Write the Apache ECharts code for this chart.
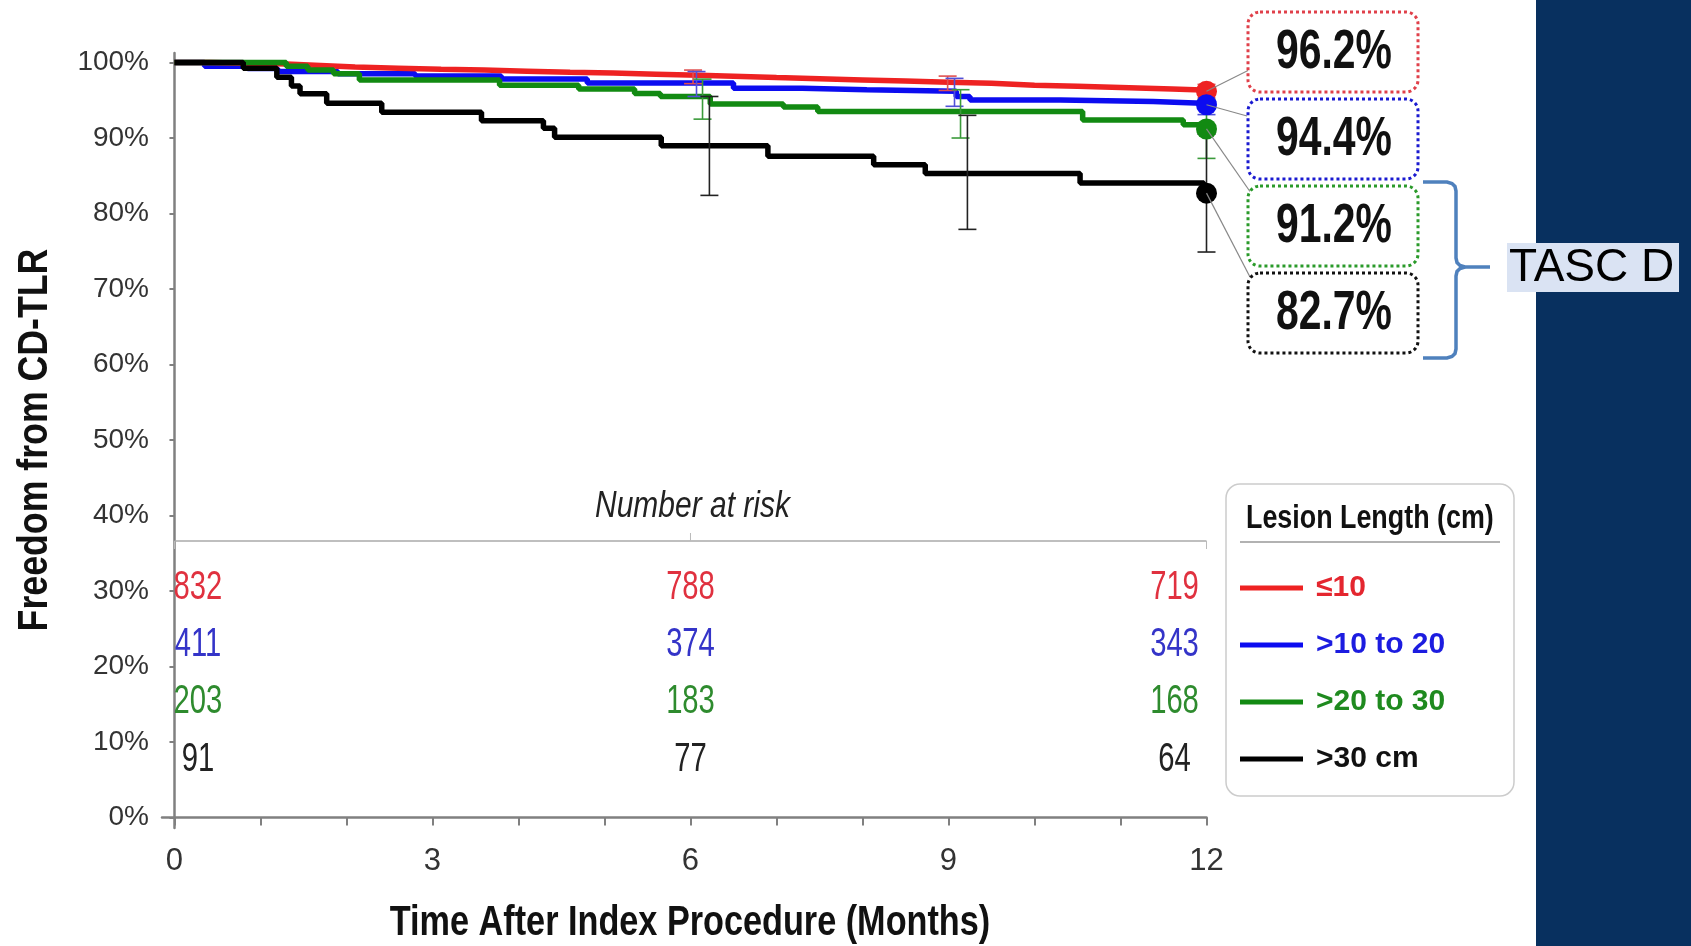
<!DOCTYPE html>
<html>
<head>
<meta charset="utf-8">
<script src="https://cdn.jsdelivr.net/npm/echarts@6/dist/echarts.min.js"></script>
<style>
html,body{margin:0;padding:0;background:#fff;}
#chart{width:1691px;height:946px;}
</style>
</head>
<body>
<div id="chart"></div>
<script>
// ---------------- DATA ----------------
const groupNames = ['≤10', '>10 to 20', '>20 to 30', '>30 cm'];
const xTickValues = [0,1,2,3,4,5,6,7,8,9,10,11,12];
const xLabelValues = [0,3,6,9,12];
const yTickValues = [0,10,20,30,40,50,60,70,80,90,100];

// Kaplan-Meier step points [month, freedom %]
const kmRed = [[0,100],[0.4,99.9],[0.9,99.8],[1.3,99.6],[1.7,99.4],[2.1,99.25],[2.6,99.1],[3.1,99.0],[3.6,98.85],[4.1,98.7],[4.6,98.6],[5.1,98.45],[5.6,98.3],[6.1,98.15],[6.6,98.0],[7.0,97.85],[7.5,97.7],[8.0,97.55],[8.5,97.4],[9.0,97.25],[9.5,97.0],[10.0,96.85],[10.5,96.7],[11.0,96.5],[11.6,96.35],[11.95,96.2],[12,96.2]];
const kmBlue = [[0,100],[0.35,99.5],[0.85,99.2],[1.2,98.8],[1.9,98.5],[2.8,98.2],[3.8,97.8],[4.8,97.3],[6.5,96.6],[7.3,96.4],[8.05,96.2],[9.09,95.5],[9.25,95.05],[10.3,94.85],[11.38,94.6],[11.95,94.4],[12,94.4]];
const kmGreen = [[0,100],[1.3,99.5],[1.55,99.0],[1.85,98.5],[2.15,97.7],[3.78,97.0],[4.7,96.5],[5.35,95.9],[5.65,95.5],[6.23,94.5],[7.08,94.1],[7.48,93.5],[10.56,92.4],[11.73,91.75],[12,91.2]];
const kmBlack = [[0,100],[0.8,99.25],[1.19,98.06],[1.36,96.9],[1.46,95.85],[1.77,94.6],[2.41,93.4],[3.57,92.3],[4.29,91.3],[4.42,90.1],[5.66,88.97],[6.9,87.6],[8.13,86.45],[8.73,85.3],[10.53,84.05],[11.97,82.7],[12,82.7]];

// 95% CI bars [month, lower, upper]
const ciRed = [[6.03,97.2,99.0],[8.99,96.3,98.2],[12,95.3,97.1]];
const ciBlue = [[6.07,95.5,98.8],[9.07,94.2,97.9],[12,93.1,95.7]];
const ciGreen = [[6.14,92.5,97.8],[9.14,90.0,96.4],[12,87.3,95.1]];
const ciBlack = [[6.22,82.4,95.5],[9.22,77.9,93.0],[12,74.9,90.5]];

// 12-month estimates
const finalRates = [96.2, 94.4, 91.2, 82.7];

// Number at risk
const riskMonths = [0, 6, 12];
const riskRed = [832, 788, 719];
const riskBlue = [411, 374, 343];
const riskGreen = [203, 183, 168];
const riskBlack = [91, 77, 64];

// ---------------- STYLE ----------------
const FONT = "'Liberation Sans', Arial, sans-serif";
const lineColors = ['#ee2222', '#0c0cf0', '#128a12', '#000000'];
const ciColors = ['#e05050', '#5050d8', '#3a9a3a', '#222222'];
const riskColors = ['#e0313f', '#3434c8', '#2e8b2e', '#222222'];
const legendColors = ['#e4262f', '#1c1ce0', '#1f8a1f', '#111111'];
const calloutColors = ['#e0404a', '#1a1ad0', '#2a9a2a', '#111111'];

const kmSets = [kmRed, kmBlue, kmGreen, kmBlack];
const ciSets = [ciRed, ciBlue, ciGreen, ciBlack];
const riskSets = [riskRed, riskBlue, riskGreen, riskBlack];

const chart = echarts.init(document.getElementById('chart'), null, {renderer: 'canvas'});

const lineOrder = [1, 0, 2, 3]; // draw order bottom->top
const series = [];
lineOrder.forEach((g, k) => {
  series.push({
    name: groupNames[g], type: 'line', step: 'end', data: kmSets[g],
    symbol: 'none', showSymbol: false, color: lineColors[g],
    lineStyle: {width: 5.5, color: lineColors[g]}, z: 2 + k, animation: false, silent: true
  });
});
// CI bars
ciSets.forEach((ci, g) => {
  series.push({
    name: 'ci' + g, type: 'custom', data: ci, z: 7, animation: false, silent: true,
    encode: {x: 0, y: [1, 2]},
    renderItem: function (params, api) {
      const x = api.value(0);
      const lo = api.coord([x, api.value(1)]);
      const hi = api.coord([x, api.value(2)]);
      const w = 9;
      const st = {stroke: ciColors[g], lineWidth: 1.6};
      return {type: 'group', children: [
        {type: 'line', shape: {x1: lo[0], y1: lo[1], x2: hi[0], y2: hi[1]}, style: st},
        {type: 'line', shape: {x1: lo[0]-w, y1: lo[1], x2: lo[0]+w, y2: lo[1]}, style: st},
        {type: 'line', shape: {x1: hi[0]-w, y1: hi[1], x2: hi[0]+w, y2: hi[1]}, style: st}
      ]};
    }
  });
});
// end markers
series.push({
  name: 'final', type: 'scatter', symbol: 'circle', symbolSize: 21, z: 9, animation: false, silent: true,
  data: finalRates.map((v, g) => ({value: [12, v], itemStyle: {color: lineColors[g], opacity: 1}}))
});
// number at risk
const rowY = [588, 645, 702, 760];
const colOffset = [23.5, 0, -32];
const riskData = [];
riskSets.forEach((arr, g) => arr.forEach((n, j) => riskData.push([riskMonths[j], n, g, j])));
series.push({
  name: 'risk', type: 'custom', data: riskData, z: 10, animation: false, silent: true,
  encode: {x: 0},
  renderItem: function (params, api) {
    const m = api.value(0), n = api.value(1), g = api.value(2), j = api.value(3);
    const p = api.coord([m, 0]);
    return {type: 'text', x: p[0] + colOffset[j], y: rowY[g], scaleX: 0.73,
      style: {text: String(n), fill: riskColors[g], font: '40px ' + FONT,
        align: 'center', verticalAlign: 'middle', textAlign: 'center', textVerticalAlign: 'middle'}};
  }
});

chart.setOption({
  animation: false,
  backgroundColor: '#ffffff',
  grid: {left: 162, right: 484.5, top: 53, bottom: 118, containLabel: false},
  xAxis: {
    type: 'value', min: -0.145, max: 12,
    axisLine: {show: true, lineStyle: {color: '#808080', width: 2.5}},
    axisTick: {show: true, customValues: xTickValues, length: 8, lineStyle: {color: '#808080', width: 2}},
    axisLabel: {show: true, customValues: xLabelValues, formatter: v => String(v), fontFamily: FONT, fontSize: 31, color: '#333', margin: 18},
    splitLine: {show: false}
  },
  yAxis: {
    type: 'value', min: -1.39, max: 101.26,
    axisLine: {show: true, lineStyle: {color: '#808080', width: 2.5}},
    axisTick: {show: true, customValues: yTickValues, length: 5, lineStyle: {color: '#808080', width: 2}},
    axisLabel: {show: true, customValues: yTickValues, formatter: v => v + '%', fontFamily: FONT, fontSize: 28, color: '#333', margin: 13},
    splitLine: {show: false}
  },
  legend: {
    data: groupNames.map((n, g) => ({name: n, textStyle: {color: legendColors[g]}})),
    orient: 'vertical', left: 1240, top: 568, padding: 0, itemGap: 17,
    itemWidth: 63, itemHeight: 5, icon: 'rect', selectedMode: false,
    textStyle: {fontFamily: FONT, fontWeight: 'bold', fontSize: 30, lineHeight: 40, padding: [0, 0, 0, 8]}
  },
  series: series
});

// ---------------- ANNOTATIONS ----------------
const g = [];
const px = v => chart.convertToPixel({gridIndex: 0}, v);
function txt(text, x, y, font, fill, align, extra) {
  return Object.assign({type: 'text', x: x, y: y, z: 100,
    style: {text: text, font: font, fill: fill, align: align || 'center', verticalAlign: 'middle',
      textAlign: align || 'center', textVerticalAlign: 'middle'}}, extra || {});
}
// right navy panel
g.push({type: 'rect', shape: {x: 1536, y: 0, width: 155, height: 946}, style: {fill: '#08305f'}, z: 90});
// TASC D label
g.push({type: 'rect', shape: {x: 1507, y: 243, width: 172, height: 49}, style: {fill: '#dae3f3'}, z: 95});
g.push(txt('TASC D', 1509, 268, '46px ' + FONT, '#000', 'left'));
// bracket
g.push({type: 'polyline', z: 95, shape: {points: [[1423,182],[1447,182],[1452,183.5],[1455,186.5],[1456,191],[1456,258],[1457,262.5],[1460,265.5],[1465,267],[1490,267]]},
  style: {stroke: '#4f81bd', lineWidth: 3.5, fill: null}});
g.push({type: 'polyline', z: 95, shape: {points: [[1465,267],[1460,268.5],[1457,271.5],[1456,276],[1456,349],[1455,353.5],[1452,356.5],[1447,358],[1423,358]]},
  style: {stroke: '#4f81bd', lineWidth: 3.5, fill: null}});
// axis titles
g.push(txt('Time After Index Procedure (Months)', 690, 923, 'bold 42px ' + FONT, '#111', 'center', {scaleX: 0.815}));
g.push(txt('Freedom from CD-TLR', 35, 440, 'bold 42px ' + FONT, '#111', 'center', {rotation: Math.PI / 2, scaleX: 0.85}));
// number at risk header + rule
const r0 = px([0, 0]), r6 = px([6, 0]), r12 = px([12, 0]);
g.push(txt('Number at risk', r6[0] + 2, 507, 'italic 37px ' + FONT, '#222', 'center', {scaleX: 0.81}));
g.push({type: 'line', z: 50, shape: {x1: r0[0], y1: 541, x2: r12[0], y2: 541}, style: {stroke: '#aaaaaa', lineWidth: 1.5}});
g.push({type: 'line', z: 50, shape: {x1: r0[0], y1: 541, x2: r0[0], y2: 549}, style: {stroke: '#bbbbbb', lineWidth: 1}});
g.push({type: 'line', z: 50, shape: {x1: r6[0], y1: 533, x2: r6[0], y2: 541}, style: {stroke: '#bbbbbb', lineWidth: 1}});
g.push({type: 'line', z: 50, shape: {x1: r12[0], y1: 541, x2: r12[0], y2: 549}, style: {stroke: '#bbbbbb', lineWidth: 1}});
// legend box
g.push({type: 'rect', z: 1, shape: {x: 1226, y: 484, width: 288, height: 312, r: 14}, style: {fill: '#fff', stroke: '#cccccc', lineWidth: 1.5}});
g.push(txt('Lesion Length (cm)', 1246, 519, 'bold 34px ' + FONT, '#111', 'left', {scaleX: 0.79}));
g.push({type: 'line', z: 50, shape: {x1: 1240, y1: 542, x2: 1500, y2: 542}, style: {stroke: '#999999', lineWidth: 1.5}});
// callout boxes with 12-month rates
const boxTops = [12, 99, 186, 273];
const leaderEnds = [[1249, 70], [1247, 116], [1251, 193], [1250, 277]];
finalRates.forEach((v, i) => {
  const p = px([12, v]);
  g.push({type: 'line', z: 60, shape: {x1: p[0], y1: p[1], x2: leaderEnds[i][0], y2: leaderEnds[i][1]}, style: {stroke: '#888', lineWidth: 1.2}});
  g.push({type: 'rect', z: 70, shape: {x: 1248, y: boxTops[i], width: 170, height: 80, r: 12},
    style: {fill: '#fff', stroke: calloutColors[i], lineWidth: 3, lineDash: [3, 3]}});
  g.push(txt(v.toFixed(1) + '%', 1334, boxTops[i] + 41, 'bold 56px ' + FONT, '#111', 'center', {z: 75, scaleX: 0.73}));
});
chart.setOption({graphic: {elements: g}});
</script>
</body>
</html>
